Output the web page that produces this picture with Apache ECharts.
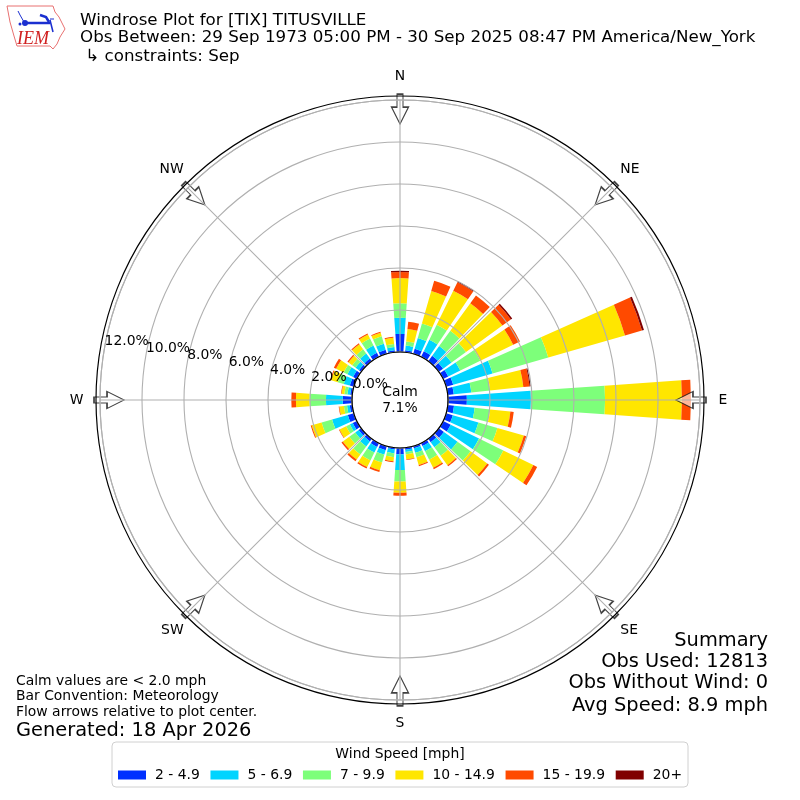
<!DOCTYPE html>
<html><head><meta charset="utf-8">
<style>html,body{margin:0;padding:0;background:#fff}#c{width:800px;height:800px}</style>
<script src="https://cdn.jsdelivr.net/npm/echarts@6/dist/echarts.min.js"></script>
</head><body><div id="c"></div>
<script>
const directions = Array.from({length:36},(_,i)=>String(i*10));
const speedBins = ['2 - 4.9','5 - 6.9','7 - 9.9','10 - 14.9','15 - 19.9','20+'];
const binColors = ['#0030ff','#00d4ff','#7dff7a','#ffe600','#ff4a00','#800000'];
const s2to5   = [.86,.10,.25,.30,.32,.25,.27,.35,.29,.90,.30,.33,.40,.30,.20,.15,.11,.10,.30,.08,.20,.20,.15,.15,.22,.30,.12,.44,.10,.20,.20,.13,.15,.22,.20,.10];
const s5to7   = [.77,.22,.54,.60,.57,.50,.64,1.95,.84,3.05,.99,1.27,1.50,.80,.30,.28,.22,.10,.75,.19,.22,.30,.30,.20,.15,.78,.13,.80,.13,.30,.30,.20,.30,.38,.30,.15];
const s7to10  = [.69,.20,.71,.80,.90,.85,1.06,2.76,.90,3.53,.74,.94,1.29,.77,.50,.45,.22,.12,.55,.18,.39,.42,.47,.35,.20,.52,.15,.79,.15,.30,.20,.20,.25,.37,.37,.15];
const s10to15 = [1.20,.59,1.61,1.80,1.62,2.14,1.74,3.80,1.59,3.66,.97,1.31,1.59,.98,.55,.43,.38,.24,.53,.20,.39,.35,.30,.38,.35,.49,.22,.64,.13,.33,.40,.22,.30,.22,.18,.30];
const s15to20 = [.29,.35,.51,.45,.46,.50,.36,.84,.30,.43,.16,.12,.20,.10,.07,.07,.06,.03,.14,.05,.08,.08,.10,.08,.03,.05,.03,.22,.03,.05,.12,.06,.05,.05,.04,.04];
const s20plus = [.06,0,0,.05,0,.08,0,.10,.05,0,0,0,0,0,0,0,0,0,0,0,0,0,0,0,0,0,0,0,0,0,0,0,0,0,0,0];
const seriesValues = [s2to5,s5to7,s7to10,s10to15,s15to20,s20plus];
const radialTicks = [0,2,4,6,8,10,12];
const compassAngles = [0,45,90,135,180,225,270,315];
const compassLabels = ['N','NE','E','SE','S','SW','W','NW'];
const titleLines = ['Windrose Plot for [TIX] TITUSVILLE','Obs Between: 29 Sep 1973 05:00 PM - 30 Sep 2025 08:47 PM America/New_York',' \u21B3 constraints: Sep'];
const summaryLines = ['Summary','Obs Used: 12813','Obs Without Wind: 0','Avg Speed: 8.9 mph'];
const noteLines = ['Calm values are < 2.0 mph','Bar Convention: Meteorology','Flow arrows relative to plot center.'];

const FONT='"DejaVu Sans"';
const txt=(x,y,text,size,extra)=>({type:'text',x,y,z:50,style:Object.assign({text,fontFamily:FONT,fontSize:size,fill:'#000',verticalAlign:'middle'},extra||{})});
const graphics=[];
titleLines.forEach((t,i)=>graphics.push(txt(80,[20.5,37.5,56.5][i],t,16.7)));
[641,662,683,706].forEach((y,i)=>graphics.push(txt(768,y,summaryLines[i],19.4,{align:'right'})));
[681,696.5,712].forEach((y,i)=>graphics.push(txt(16,y,noteLines[i],13.9)));
graphics.push(txt(16,730.5,'Generated: 18 Apr 2026',19.4));
graphics.push(txt(400,392,'Calm',13.9,{align:'center'}));
graphics.push(txt(400,408,'7.1%',13.9,{align:'center'}));
graphics.push(txt(400,754,'Wind Speed [mph]',13.9,{align:'center'}));
// IEM logo
graphics.push({type:'polygon',z:50,shape:{points:[[7,6],[53,6],[55,12],[59,17],[65,29],[60,37],[57,44],[53,49],[50,46],[17,46],[14,36],[10,22]]},style:{fill:'none',stroke:'#e87070',lineWidth:1}});
graphics.push({type:'polyline',z:50,shape:{points:[[25,23],[50,23]]},style:{stroke:'#1a2fd0',lineWidth:2.5}});
graphics.push({type:'polyline',z:50,shape:{points:[[50,19],[54,19]]},style:{stroke:'#1a2fd0',lineWidth:1}});
graphics.push({type:'polyline',z:50,shape:{points:[[18,11],[20,15],[24,22]]},style:{stroke:'#1a2fd0',lineWidth:1}});
graphics.push({type:'polyline',z:50,shape:{points:[[40,15],[46,17],[49,22]]},style:{stroke:'#1a2fd0',lineWidth:2.5}});
graphics.push({type:'polyline',z:50,shape:{points:[[50,20],[53,32]]},style:{stroke:'#1a2fd0',lineWidth:1.5}});
graphics.push({type:'circle',z:50,shape:{cx:25,cy:23,r:3},style:{fill:'#1a2fd0'}});
graphics.push({type:'circle',z:50,shape:{cx:20,cy:24,r:1.5},style:{fill:'#1a2fd0'}});
graphics.push({type:'text',x:17,y:30,z:50,style:{text:'IEM',fontFamily:'"Liberation Serif"',fontStyle:'italic',fontSize:18,fill:'#d02020'}});

const ARROW='path://M8.5 0 L17 17 L11.5 17 L11.5 30 L5.5 30 L5.5 17 L0 17 Z';
const barSeries=seriesValues.map((vals,i)=>({
  name:speedBins[i],type:'bar',coordinateSystem:'polar',polarIndex:0,stack:'wind',barWidth:'80%',
  data:vals,z:2,itemStyle:{color:binColors[i]},emphasis:{disabled:true}
}));
const lab=p=>({fontSize:13.9,color:'#000',fontFamily:FONT,padding:p});
const richKey={N:'v',S:'v',E:'e',W:'w',NE:'dl',SE:'dl',NW:'dr',SW:'dr'};
const radialLabel=(show,extra)=>Object.assign({show:true,margin:0,rotate:0,align:'left',verticalAlign:'bottom',fontSize:13.9,color:'#000',
  formatter:v=>(radialTicks.includes(v)&&show(v))?v.toFixed(1)+'%':''},extra);
const option={
  animation:false,
  textStyle:{fontFamily:FONT},
  polar:[
    {center:[400,400],radius:[48,300]},
    {center:[400,400],radius:[48,300]},
    {center:[400,400],radius:[48,304]},
    {center:[400,400],radius:[48,300]},
    {center:[400,400],radius:[48,300]}
  ],
  angleAxis:[
    {polarIndex:0,type:'category',data:directions,startAngle:95,clockwise:true,show:false},
    {polarIndex:1,type:'value',min:0,max:360,interval:45,startAngle:90,clockwise:true,z:5,
      axisLine:{show:true,lineStyle:{color:'#b0b0b0',width:1.1}},axisTick:{show:false},
      splitLine:{show:true,lineStyle:{color:'#b0b0b0',width:1.1}},
      axisLabel:{show:true,margin:6,fontSize:13.9,color:'#000',
        formatter:v=>{const i=compassAngles.indexOf(v);if(i<0)return '';const t=compassLabels[i];return '{'+richKey[t]+'|'+t+'}';},
        rich:{v:lab([10.5,0,10.5,0]),e:lab([0,0,0,12.5]),w:lab([0,10.5,0,0]),dl:lab([7,0,7,4]),dr:lab([7,0,7,0])}}},
    {polarIndex:2,type:'value',min:0,max:360,startAngle:90,z:6,
      axisLine:{show:true,lineStyle:{color:'#000',width:1.2}},axisTick:{show:false},splitLine:{show:false},axisLabel:{show:false}},
    {polarIndex:3,type:'value',min:0,max:360,startAngle:170,show:false},
    {polarIndex:4,type:'value',min:0,max:360,startAngle:170,show:false}
  ],
  radiusAxis:[
    {polarIndex:0,type:'value',min:0,max:12,show:false},
    {polarIndex:1,type:'value',min:0,max:12,interval:2,z:5,axisLine:{show:false},axisTick:{show:false},axisLabel:{show:false},
      splitLine:{show:true,lineStyle:{color:'#b0b0b0',width:1.1}}},
    {polarIndex:2,type:'value',min:0,max:12,show:false},
    {polarIndex:3,type:'value',min:0,max:12,interval:2,z:20,axisLine:{show:false},axisTick:{show:false},splitLine:{show:false},
      axisLabel:radialLabel(v=>v<12,{showMinLabel:true,showMaxLabel:false})},
    {polarIndex:4,type:'value',min:0,max:12,interval:2,z:20,axisLine:{show:false},axisTick:{show:false},splitLine:{show:false},
      axisLabel:radialLabel(v=>v===12,{showMaxLabel:true})}
  ],
  legend:{left:112,top:742,width:576,padding:[26,6,5,6],itemGap:10.7,itemWidth:28,itemHeight:9,icon:'rect',
    backgroundColor:'#fff',borderColor:'#d0d0d0',borderWidth:1,borderRadius:4,
    data:speedBins,selectedMode:false,textStyle:{fontSize:13.9,color:'#000',padding:[0,0,0,4]}},
  series:[...barSeries,{
    type:'scatter',coordinateSystem:'polar',polarIndex:1,z:3,symbol:ARROW,symbolSize:[17,30],silent:true,
    itemStyle:{color:'rgba(255,255,255,0.75)',borderColor:'#111',borderWidth:1.3},
    data:compassAngles.map(a=>({value:[11.57,a],symbolRotate:180-a}))
  }],
  graphic:graphics
};
echarts.init(document.getElementById('c'),null,{renderer:'canvas'}).setOption(option);
</script></body></html>
